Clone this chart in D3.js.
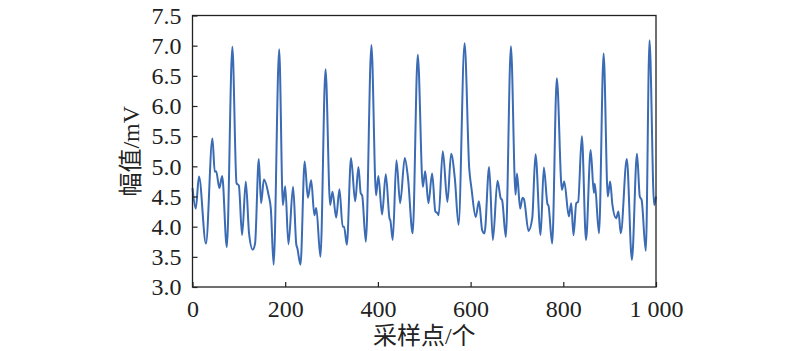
<!DOCTYPE html>
<html>
<head>
<meta charset="utf-8">
<script src="https://cdn.jsdelivr.net/npm/d3@7"></script>
<style>
    body { margin: 0; background: #fff; }
    svg text { font-family: "Liberation Serif", "Times New Roman", "Noto Sans CJK SC", serif; fill: #222; }
</style>
</head>
<body>
<svg id="chart" width="800" height="351"></svg>
<script>
// sample index of each read point
const sampleIdx = [
    0, 7, 14, 29, 43, 48, 51, 58, 64, 74, 86, 95, 100, 107, 115, 122, 130, 135, 143, 148,
    154, 164, 169, 175, 187, 195, 200, 207, 217, 224, 226, 233, 242, 249, 256, 263, 267, 276, 287, 297,
    302, 310, 317, 324, 327, 333, 342, 351, 358, 363, 366, 374, 386, 396, 401, 409, 417, 425, 427, 432,
    440, 448, 458, 465, 475, 486, 497, 502, 509, 517, 524, 529, 531, 540, 550, 558, 566, 574, 587, 597,
    602, 611, 618, 625, 630, 640, 648, 658, 665, 668, 676, 687, 697, 700, 707, 712, 715, 725, 733, 740,
    751, 758, 766, 768, 776, 786, 797, 802, 812, 817, 822, 828, 832, 840, 849, 859, 866, 868, 877, 887,
    896, 901, 906, 914, 919, 924, 937, 948, 959, 965, 969, 978, 986, 996, 1000
];

// amplitude in mV at those samples
const amplitude = [
    4.64, 4.30, 4.83, 3.72, 5.46, 4.91, 4.92, 4.64, 4.84, 3.66, 6.98, 4.72, 4.68, 3.86, 4.75, 3.89, 3.62, 3.72, 5.12, 4.39,
    4.78, 4.53, 4.30, 3.37, 6.94, 4.36, 4.67, 3.71, 4.66, 3.70, 3.65, 3.37, 5.08, 4.48, 4.77, 4.19, 4.31, 3.50, 6.61, 4.36,
    4.58, 4.15, 4.62, 4.00, 4.00, 3.70, 5.14, 4.42, 4.99, 4.55, 4.52, 3.75, 7.01, 4.52, 4.84, 4.20, 4.87, 4.14, 4.10, 3.78,
    5.10, 4.39, 5.14, 4.80, 3.89, 6.85, 4.66, 4.92, 4.39, 4.88, 4.25, 4.22, 4.19, 5.25, 4.41, 5.21, 4.80, 4.03, 7.04, 4.97,
    4.63, 4.16, 4.42, 3.94, 3.89, 4.99, 3.78, 4.76, 4.47, 4.44, 3.83, 6.99, 4.53, 4.88, 4.30, 4.48, 4.46, 3.93, 4.14, 5.20,
    3.86, 4.98, 4.37, 4.35, 3.72, 6.46, 4.61, 4.75, 4.17, 4.39, 3.86, 4.39, 4.41, 5.50, 3.78, 5.27, 4.56, 4.71, 3.89, 6.87,
    4.50, 4.75, 4.36, 4.14, 4.25, 3.89, 5.12, 3.45, 5.21, 4.50, 4.44, 3.60, 7.09, 4.36, 4.50
];

const xTicks = [0, 200, 400, 600, 800, 1000];
const yTicks = [3.0, 3.5, 4.0, 4.5, 5.0, 5.5, 6.0, 6.5, 7.0, 7.5];
const xLabel = "采样点/个";
const yLabel = "幅值/mV";

const svg = d3.select("#chart");

const margin = { top: 15.5, right: 144, bottom: 64, left: 192.5 },
    width = 800 - margin.left - margin.right,
    height = 351 - margin.top - margin.bottom;

const xAxis = d3.scaleLinear()
    .domain([0, 1000])
    .range([margin.left, margin.left + width]);
const yAxis = d3.scaleLinear()
    .domain([3, 7.5])
    .range([margin.top + height, margin.top]);

const points = sampleIdx.map((s, i) => [s, amplitude[i]]);

const line = d3.line()
    .x(d => xAxis(d[0]))
    .y(d => yAxis(d[1]))
    .curve(d3.curveMonotoneX);

svg.append("path")
    .datum(points)
    .attr("fill", "none")
    .attr("stroke", "#3a6bb4")
    .attr("stroke-width", 2)
    .attr("stroke-linejoin", "round")
    .attr("d", line);

// ticks point inwards, labels placed by hand
const bottom = svg.append("g")
    .attr("transform", "translate(0," + (margin.top + height) + ")")
    .call(d3.axisBottom(xAxis)
        .tickValues(xTicks)
        .tickSizeInner(-5)
        .tickSizeOuter(0)
        .tickPadding(12)
        .tickFormat(d => d === 1000 ? "1 000" : d));

const left = svg.append("g")
    .attr("transform", "translate(" + margin.left + ",0)")
    .call(d3.axisLeft(yAxis)
        .tickValues(yTicks)
        .tickSizeInner(-5)
        .tickSizeOuter(0)
        .tickPadding(11)
        .tickFormat(d3.format(".1f")));

[bottom, left].forEach(g => {
    g.select(".domain").remove();
    g.selectAll(".tick line").attr("stroke", "#222").attr("stroke-width", 1.2);
    g.selectAll(".tick text")
        .style("font-family", "'Liberation Serif', 'Times New Roman', serif")
        .style("font-size", "24px")
        .attr("fill", "#222");
});

bottom.selectAll(".tick text").attr("dy", "0.76em");

svg.append("rect")
    .attr("x", margin.left)
    .attr("y", margin.top)
    .attr("width", width)
    .attr("height", height)
    .attr("fill", "none")
    .attr("stroke", "#222")
    .attr("stroke-width", 1.3);

svg.append("text")
    .attr("x", margin.left + width / 2)
    .attr("y", 344)
    .style("text-anchor", "middle")
    .style("font-size", "24px")
    .text(xLabel);

svg.append("text")
    .attr("transform", "translate(131," + (margin.top + height / 2) + ") rotate(-90)")
    .attr("dy", "0.35em")
    .style("text-anchor", "middle")
    .style("font-size", "24px")
    .text(yLabel);
</script>
</body>
</html>
